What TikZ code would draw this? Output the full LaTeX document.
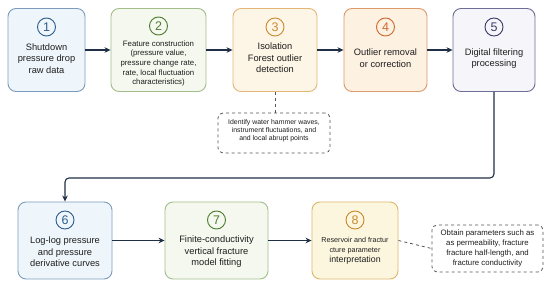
\documentclass[tikz,border=0pt]{standalone}
\usepackage{fontspec}
\setmainfont{Liberation Sans}
\usetikzlibrary{positioning,arrows.meta,calc}

\definecolor{blueFill}{HTML}{EFF6FB}
\definecolor{blueEdge}{HTML}{7C9CBC}
\definecolor{blueNum}{HTML}{2C5D8F}
\definecolor{greenFill}{HTML}{F4F8EE}
\definecolor{greenEdge}{HTML}{A3BE8C}
\definecolor{greenNum}{HTML}{4E7D32}
\definecolor{sandFill}{HTML}{FDF5E5}
\definecolor{sandEdge}{HTML}{E3B777}
\definecolor{sandNum}{HTML}{CC8A33}
\definecolor{peachFill}{HTML}{FDF1E2}
\definecolor{peachEdge}{HTML}{DD9A6A}
\definecolor{peachNum}{HTML}{D0692F}
\definecolor{lilacFill}{HTML}{F6F6FA}
\definecolor{lilacEdge}{HTML}{6E6E94}
\definecolor{lilacNum}{HTML}{3B3B6B}
\definecolor{goldFill}{HTML}{FDF6DF}
\definecolor{goldEdge}{HTML}{DDB768}
\definecolor{goldNum}{HTML}{C98A2E}
\definecolor{arrowInk}{HTML}{1F2F45}
\definecolor{noteInk}{HTML}{555555}
\definecolor{textInk}{HTML}{1E1E1E}

\begin{document}
\begin{tikzpicture}[x=1pt,y=-1pt, every node/.style={align=center, text=textInk},
  stepbox/.style={draw, line width=0.9pt, rounded corners=8pt, inner sep=0pt},
  numring/.style={circle, draw, line width=0.9pt, inner sep=0pt, minimum size=18pt, font=\fontsize{12.5}{12.5}\selectfont},
  flow/.style={-{Stealth[length=6pt,width=5.5pt]}, line width=1.1pt, draw=arrowInk},
  notebox/.style={draw=noteInk, dashed, line width=0.8pt, rounded corners=5pt, inner sep=0pt},
  linkdash/.style={draw=noteInk, dashed, line width=0.8pt},
  bigtxt/.style={font=\fontsize{9.3}{11.5}\selectfont},
  smalltxt/.style={font=\fontsize{7.8}{9.7}\selectfont}]
  \fill[white] (0,0) rectangle (550,286);
  \useasboundingbox (0,0) rectangle (550,286);

  % top row
  \node[stepbox, fill=blueFill, draw=blueEdge, minimum width=77pt, minimum height=83pt] (b1) at (46.5,50) {};
  \node[numring, draw=blueNum, text=blueNum] (n1) at (46.5,27) {1};
  \node[bigtxt] (t1) at (46.5,58.5) {Shutdown\\pressure drop\\raw data};

  \node[stepbox, fill=greenFill, draw=greenEdge, minimum width=95pt, minimum height=83pt] (b2) at (158.5,50) {};
  \node[numring, draw=greenNum, text=greenNum] (n2) at (158.5,26) {2};
  \node[smalltxt] (t2) at (158.5,63.5) {Feature construction\\(pressure value,\\pressure change rate,\\rate, local fluctuation\\characteristics)};

  \node[stepbox, fill=sandFill, draw=sandEdge, minimum width=84pt, minimum height=83pt] (b3) at (275,50) {};
  \node[numring, draw=sandNum, text=sandNum] (n3) at (275,27) {3};
  \node[bigtxt] (t3) at (275,58) {Isolation\\Forest outlier\\detection};

  \node[stepbox, fill=peachFill, draw=peachEdge, minimum width=83pt, minimum height=83pt] (b4) at (385.5,50) {};
  \node[numring, draw=peachNum, text=peachNum] (n4) at (385.5,27) {4};
  \node[bigtxt] (t4) at (385.5,58) {Outlier removal\\or correction};

  \node[stepbox, fill=lilacFill, draw=lilacEdge, minimum width=82pt, minimum height=83pt] (b5) at (494,50) {};
  \node[numring, draw=lilacNum, text=lilacNum] (n5) at (494,27) {5};
  \node[bigtxt] (t5) at (494,58.5) {Digital filtering\\processing};

  \node[notebox, minimum width=112pt, minimum height=40pt] (note1) at (274,133) {};
  \node[font=\fontsize{6.9}{7.8}\selectfont] (nt1) at (274,131) {Identify water hammer waves,\\instrument fluctuations, and\\and local abrupt points};

  % bottom row
  \node[stepbox, fill=blueFill, draw=blueEdge, minimum width=94pt, minimum height=77pt] (b6) at (65,240.5) {};
  \node[numring, draw=blueNum, text=blueNum] (n6) at (65,220) {6};
  \node[bigtxt] (t6) at (65,252) {Log-log pressure\\and pressure\\derivative curves};

  \node[stepbox, fill=greenFill, draw=greenEdge, minimum width=103pt, minimum height=77pt] (b7) at (216.5,240.5) {};
  \node[numring, draw=greenNum, text=greenNum] (n7) at (216.5,220) {7};
  \node[bigtxt] (t7) at (216.5,252) {Finite-conductivity\\vertical fracture\\model fitting};

  \node[stepbox, fill=goldFill, draw=goldEdge, minimum width=86pt, minimum height=77pt] (b8) at (355,240.5) {};
  \node[numring, draw=goldNum, text=goldNum] (n8) at (355,220) {8};
  \node[font=\fontsize{7.2}{10}\selectfont] (t8) at (355,250.5) {Reservoir and fractur\\cture parameter\\{\fontsize{8.8}{10}\selectfont interpretation}};

  \node[notebox, minimum width=111pt, minimum height=47pt] (note2) at (487.5,248.5) {};
  \node[smalltxt] (nt2) at (487.5,248.5) {Obtain parameters such as\\as permeability, fracture\\fracture half-length, and\\fracture conductivity};

  % connectors
  \draw[flow] (b1) -- (b2);
  \draw[flow] (b2) -- (b3);
  \draw[flow] (b3) -- (b4);
  \draw[flow] (b4) -- (b5);
  \coordinate (turn) at (494,178);
  \draw[flow, rounded corners=4pt] (b5.south) -- (turn) -| (b6.north);
  \draw[flow] (b6) -- (b7);
  \draw[flow] (b7) -- (b8);
  \draw[linkdash] (b3.south) -- (b3.south |- note1.north);
  \draw[linkdash] (b8.east) -- (note2.west);
\end{tikzpicture}
\end{document}
